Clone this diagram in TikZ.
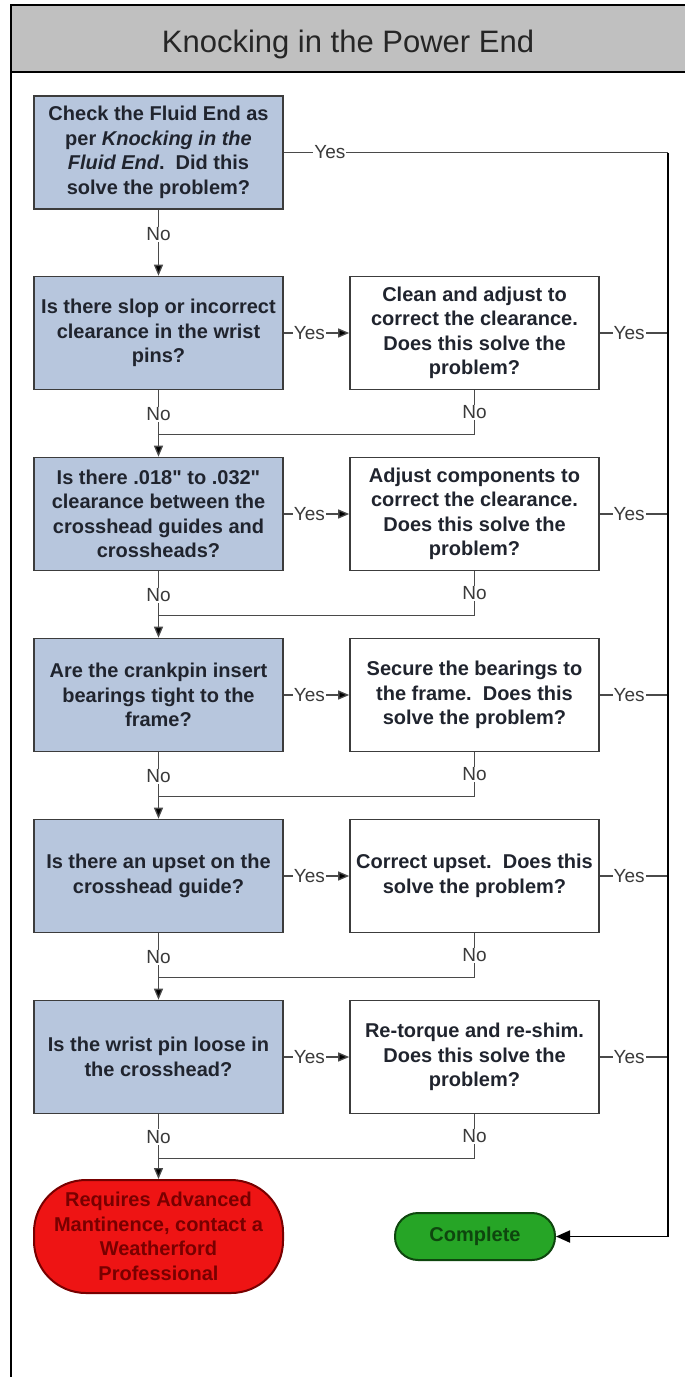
\documentclass[tikz,border=0pt]{standalone}
\usepackage{fontspec}
\setmainfont{Liberation Sans}
\usepackage{xcolor}
\usetikzlibrary{arrows.meta}
\definecolor{qblue}{HTML}{B7C6DD}
\definecolor{boxgray}{HTML}{3C3C3C}
\definecolor{linegray}{HTML}{4A4A4A}
\definecolor{lblgray}{HTML}{3A3A3A}
\definecolor{txtdark}{HTML}{20242E}
\definecolor{titlegray}{HTML}{C0C0C0}
\definecolor{stopred}{HTML}{EE1414}
\definecolor{stoptext}{HTML}{780000}
\definecolor{donegreen}{HTML}{26A526}
\definecolor{donetext}{HTML}{0E460E}

\begin{document}
\begin{tikzpicture}[x=1pt, y=-1pt, >={Triangle[length=11pt,width=9pt]},
	every node/.style={font=\fontsize{20}{24.5}\selectfont\bfseries, text=txtdark, inner sep=2pt},
	question/.style={draw=boxgray, line width=1.6pt, fill=qblue, minimum width=249pt, minimum height=113pt, align=center},
	action/.style={question, fill=white},
	stopnode/.style={draw=stoptext, line width=2pt, fill=stopred, text=stoptext, rounded corners=52pt, minimum width=249pt, minimum height=113pt, align=center},
	finish/.style={draw=donetext, line width=2pt, fill=donegreen, text=donetext, rounded corners=23pt, minimum width=160pt, minimum height=47pt},
	lbl/.style={font=\fontsize{19}{22}\selectfont, text=lblgray, fill=white, inner sep=1pt},
	conn/.style={draw=linegray, line width=1.3pt},
	railline/.style={draw=black, line width=1.8pt}]
		
		\useasboundingbox (0,0) rectangle (685,1377);
		
		% title band and frame
		\draw[fill=titlegray, line width=2pt] (11,5) rectangle (690,72);
		\draw[line width=2pt] (11,72) -- (11,1380);
		\node[font=\fontsize{31}{36}\selectfont, text=black!85] (title) at (348,44) {Knocking in the Power End};
		
		\node[question] (q1) at (158.5,152.5) {Check the Fluid End as\\per \textit{Knocking in the}\\\textit{Fluid End}.\ \ Did this\\solve the problem?};
		
		\node[question] (q2) at (158.5,333) {Is there slop or incorrect\\clearance in the wrist\\pins?};
		\node[action] (a2) at (474.5,333) {Clean and adjust to\\correct the clearance.\\Does this solve the\\problem?};
		
		\node[question] (q3) at (158.5,514) {Is there .018\textquotedbl{} to .032\textquotedbl\\clearance between the\\crosshead guides and\\crossheads?};
		\node[action] (a3) at (474.5,514) {Adjust components to\\correct the clearance.\\Does this solve the\\problem?};
		
		\node[question] (q4) at (158.5,695) {Are the crankpin insert\\bearings tight to the\\frame?};
		\node[action] (a4) at (474.5,695) {Secure the bearings to\\the frame.\ \ Does this\\solve the problem?};
		
		\node[question] (q5) at (158.5,876) {Is there an upset on the\\crosshead guide?};
		\node[action] (a5) at (474.5,876) {Correct upset.\ \ Does this\\solve the problem?};
		
		\node[question] (q6) at (158.5,1057) {Is the wrist pin loose in\\the crosshead?};
		\node[action] (a6) at (474.5,1057) {Re-torque and re-shim.\\Does this solve the\\problem?};
		
		\node[stopnode] (adv) at (158.5,1236.5) {Requires Advanced\\Mantinence, contact a\\Weatherford\\Professional};
		\node[finish] (done) at (475,1236.5) {Complete};
		
		\coordinate (rail) at (668,152.5);
		\coordinate (j2) at (158.5,434.5);
		\coordinate (j3) at (158.5,615.5);
		\coordinate (j4) at (158.5,796.5);
		\coordinate (j5) at (158.5,977.5);
		\coordinate (j6) at (158.5,1158.5);
		
		\path[conn,->]
		(q1) edge node[lbl,pos=.37]{No} (q2)
		(q2) edge node[lbl,pos=.36]{No} (q3)
		(q3) edge node[lbl,pos=.36]{No} (q4)
		(q4) edge node[lbl,pos=.36]{No} (q5)
		(q5) edge node[lbl,pos=.36]{No} (q6)
		(q6) edge node[lbl,pos=.35]{No} (adv)
		(q2) edge node[lbl,pos=.39]{Yes} (a2)
		(q3) edge node[lbl,pos=.39]{Yes} (a3)
		(q4) edge node[lbl,pos=.39]{Yes} (a4)
		(q5) edge node[lbl,pos=.39]{Yes} (a5)
		(q6) edge node[lbl,pos=.39]{Yes} (a6)
		;
		
		\draw[conn] (a2.south) -- node[lbl]{No} (a2.south |- j2) -- (j2);
		\draw[conn] (a3.south) -- node[lbl]{No} (a3.south |- j3) -- (j3);
		\draw[conn] (a4.south) -- node[lbl]{No} (a4.south |- j4) -- (j4);
		\draw[conn] (a5.south) -- node[lbl]{No} (a5.south |- j5) -- (j5);
		\draw[conn] (a6.south) -- node[lbl]{No} (a6.south |- j6) -- (j6);
		
		\draw[conn] (q1.east) -- node[lbl,pos=.12]{Yes} (rail);
		\draw[conn] (a2.east) -- node[lbl,pos=.43]{Yes} (a2.east -| rail);
		\draw[conn] (a3.east) -- node[lbl,pos=.43]{Yes} (a3.east -| rail);
		\draw[conn] (a4.east) -- node[lbl,pos=.43]{Yes} (a4.east -| rail);
		\draw[conn] (a5.east) -- node[lbl,pos=.43]{Yes} (a5.east -| rail);
		\draw[conn] (a6.east) -- node[lbl,pos=.43]{Yes} (a6.east -| rail);
		\draw[railline,->,>={Triangle[length=14pt,width=12pt]}] (rail) |- (done.east);
		
	\end{tikzpicture}
\end{document}
